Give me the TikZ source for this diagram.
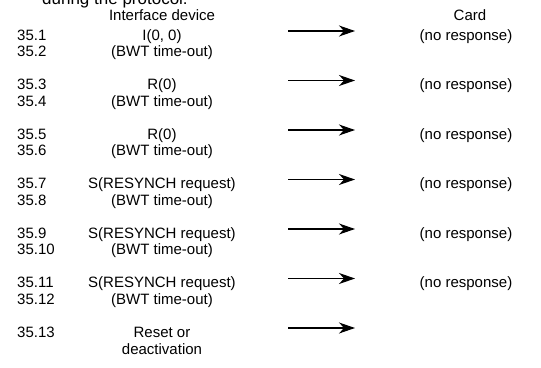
\documentclass[tikz,border=0pt]{standalone}
\usepackage{fontspec}
\setmainfont{Liberation Sans}
\usetikzlibrary{arrows.meta,positioning}

\begin{document}
\begin{tikzpicture}[x=1pt, y=-1pt, >={Stealth[length=16pt,width=11pt,inset=5pt]},
    num/.style={anchor=base west, inner sep=0pt, font=\fontsize{15}{16.5}\selectfont},
    dev/.style={anchor=base, inner sep=0pt, font=\fontsize{15}{16.5}\selectfont, align=center},
    card/.style={anchor=base, inner sep=0pt, font=\fontsize{15}{16.5}\selectfont},
    head/.style={anchor=base, inner sep=0pt, font=\fontsize{15}{16.5}\selectfont},
    line/.style={draw, ->, line width=1.1pt}]
    \useasboundingbox (0,0) rectangle (541,367);

    % cut-off line of the page above
    \node [anchor=base west, inner sep=0pt, font=\fontsize{17}{19}\selectfont] (intro) at (42,4) {during the protocol:};

    % Headings
    \node [head] (ifd) at (162,20) {Interface device};
    \node [head] (cardh) at (470,20) {Card};

    % Step numbers
    \node [num] (n1) at (17,40) {35.1};
    \node [num] (n2) at (17,56.5) {35.2};
    \node [num] (n3) at (17,89.5) {35.3};
    \node [num] (n4) at (17,106) {35.4};
    \node [num] (n5) at (17,139) {35.5};
    \node [num] (n6) at (17,155.5) {35.6};
    \node [num] (n7) at (17,188.5) {35.7};
    \node [num] (n8) at (17,205) {35.8};
    \node [num] (n9) at (17,238) {35.9};
    \node [num] (n10) at (17,254.5) {35.10};
    \node [num] (n11) at (17,287.5) {35.11};
    \node [num] (n12) at (17,304) {35.12};
    \node [num] (n13) at (17,337) {35.13};

    % Interface device
    \node [dev] (d1) at (162,40) {I(0, 0)};
    \node [dev] (d2) at (162,56.5) {(BWT time-out)};
    \node [dev] (d3) at (162,89.5) {R(0)};
    \node [dev] (d4) at (162,106) {(BWT time-out)};
    \node [dev] (d5) at (162,139) {R(0)};
    \node [dev] (d6) at (162,155.5) {(BWT time-out)};
    \node [dev] (d7) at (162,188.5) {S(RESYNCH request)};
    \node [dev] (d8) at (162,205) {(BWT time-out)};
    \node [dev] (d9) at (162,238) {S(RESYNCH request)};
    \node [dev] (d10) at (162,254.5) {(BWT time-out)};
    \node [dev] (d11) at (162,287.5) {S(RESYNCH request)};
    \node [dev] (d12) at (162,304) {(BWT time-out)};
    \node [dev] (d13) at (162,354) {Reset or\\deactivation};

    % Card
    \node [card] (c1) at (466,40) {(no response)};
    \node [card] (c3) at (466,89.5) {(no response)};
    \node [card] (c5) at (466,139) {(no response)};
    \node [card] (c7) at (466,188.5) {(no response)};
    \node [card] (c9) at (466,238) {(no response)};
    \node [card] (c11) at (466,287.5) {(no response)};

    % Arrow ends
    \coordinate (a1) at (288,31);    \coordinate (b1) at (355,31);
    \coordinate (a3) at (288,80.5);  \coordinate (b3) at (355,80.5);
    \coordinate (a5) at (288,130);   \coordinate (b5) at (355,130);
    \coordinate (a7) at (288,179.5); \coordinate (b7) at (355,179.5);
    \coordinate (a9) at (288,229);   \coordinate (b9) at (355,229);
    \coordinate (a11) at (288,278.5); \coordinate (b11) at (355,278.5);
    \coordinate (a13) at (288,328);  \coordinate (b13) at (355,328);

    % Arrows
    \path [line] (a1) -- (b1);
    \path [line] (a3) -- (b3);
    \path [line] (a5) -- (b5);
    \path [line] (a7) -- (b7);
    \path [line] (a9) -- (b9);
    \path [line] (a11) -- (b11);
    \path [line] (a13) -- (b13);

\end{tikzpicture}
\end{document}
